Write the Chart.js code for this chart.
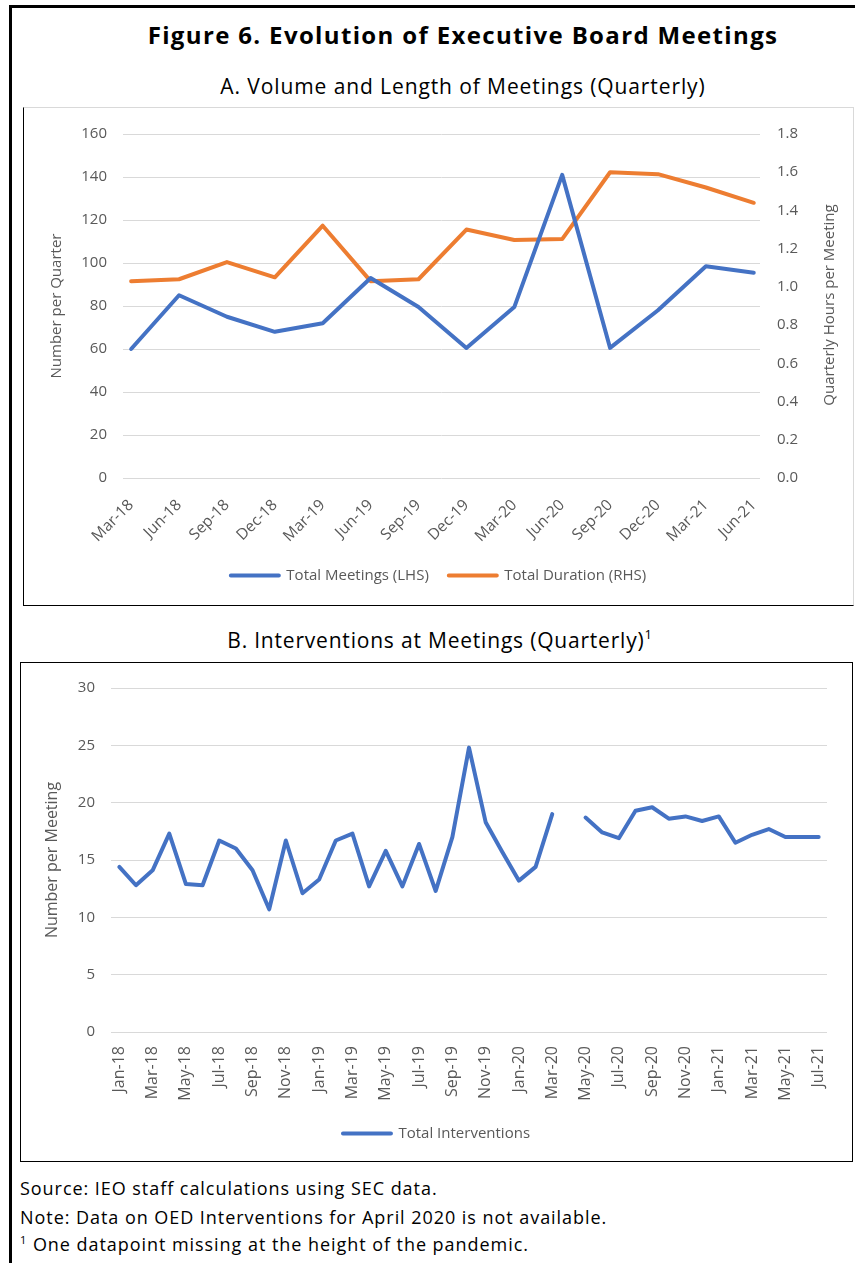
<!DOCTYPE html>
<html>
<head>
<meta charset="utf-8">
<title>Figure 6. Evolution of Executive Board Meetings</title>
<script src="https://cdn.jsdelivr.net/npm/chart.js@4.4.1/dist/chart.umd.min.js"></script>
<style>
  body { margin: 0; background: #fff; font-family: "Open Sans", sans-serif; }
  #page { position: relative; width: 855px; height: 1263px; overflow: hidden; }
  #frame { position: absolute; left: 9px; top: 5px; width: 900px; height: 1300px;
           border-left: 3px solid #000; border-top: 3px solid #000; }
  .txt { position: absolute; white-space: nowrap; color: #000; }
  #title { left: 63px; width: 800px; top: 19px; text-align: center; font-weight: bold;
           font-size: 24px; letter-spacing: 1.35px; line-height: 32px; }
  #subA  { left: 63px; width: 800px; top: 72px; text-align: center; font-size: 21px;
           letter-spacing: 0.9px; line-height: 28px; }
  #subB  { left: 40px; width: 800px; top: 626px; text-align: center; font-size: 21px;
           letter-spacing: 0.8px; line-height: 28px; }
  #subB sup { font-size: 13px; vertical-align: 9px; line-height: 0; }
  .foot  { left: 20px; font-size: 18px; letter-spacing: 0.95px; line-height: 28px; }
  .foot sup { font-size: 11px; vertical-align: 7px; line-height: 0; }
  #panelA { position: absolute; left: 23px; top: 107px; width: 829px; height: 497px;
            border-left: 1px solid #000; border-bottom: 1px solid #000;
            border-top: 1px solid #d9d9d9; border-right: 1px solid #d9d9d9; }
  #panelB { position: absolute; left: 20px; top: 662px; width: 831px; height: 498px;
            border: 1px solid #000; }
  #rhsTitle { position: absolute; left: 678px; top: 295px; width: 300px; height: 20px;
              line-height: 20px; text-align: center; font-size: 15px; color: #595959;
              transform: rotate(-90deg); white-space: nowrap; }
  canvas { display: block; }
</style>
</head>
<body>
<div id="page">
  <div id="frame"></div>
  <div class="txt" id="title">Figure 6. Evolution of Executive Board Meetings</div>
  <div class="txt" id="subA">A. Volume and Length of Meetings (Quarterly)</div>
  <div id="panelA"><canvas id="chartA" width="829" height="497"></canvas></div>
  <div id="rhsTitle">Quarterly Hours per Meeting</div>
  <div class="txt" id="subB">B. Interventions at Meetings (Quarterly)<sup>1</sup></div>
  <div id="panelB"><canvas id="chartB" width="831" height="498"></canvas></div>
  <div class="txt foot" style="top:1174px">Source: IEO staff calculations using SEC data.</div>
  <div class="txt foot" style="top:1203px">Note: Data on OED Interventions for April 2020 is not available.</div>
  <div class="txt foot" style="top:1230px"><sup>1</sup> One datapoint missing at the height of the pandemic.</div>
</div>

<script>
// ── DATA: PANEL A (quarterly) ──
const quarters      = ['Mar-18', 'Jun-18', 'Sep-18', 'Dec-18', 'Mar-19', 'Jun-19', 'Sep-19',
                       'Dec-19', 'Mar-20', 'Jun-20', 'Sep-20', 'Dec-20', 'Mar-21', 'Jun-21'];
const totalMeetings = [60, 85, 75, 68, 72, 93, 79.5, 60.5, 79.5, 141, 60.5, 78, 98.5, 95.5];
const totalDuration = [1.03, 1.04, 1.13, 1.05, 1.32, 1.03, 1.04, 1.30, 1.245, 1.25, 1.60, 1.59, 1.52, 1.44];

// ── DATA: PANEL B (monthly, April 2020 missing) ──
const months = ['Jan-18', 'Feb-18', 'Mar-18', 'Apr-18', 'May-18', 'Jun-18', 'Jul-18', 'Aug-18', 'Sep-18', 'Oct-18', 'Nov-18', 'Dec-18',
                'Jan-19', 'Feb-19', 'Mar-19', 'Apr-19', 'May-19', 'Jun-19', 'Jul-19', 'Aug-19', 'Sep-19', 'Oct-19', 'Nov-19', 'Dec-19',
                'Jan-20', 'Feb-20', 'Mar-20', 'Apr-20', 'May-20', 'Jun-20', 'Jul-20', 'Aug-20', 'Sep-20', 'Oct-20', 'Nov-20', 'Dec-20',
                'Jan-21', 'Feb-21', 'Mar-21', 'Apr-21', 'May-21', 'Jun-21', 'Jul-21'];
const interventions = [14.4, 12.8, 14.1, 17.3, 12.9, 12.8, 16.7, 16.0, 14.1, 10.7, 16.7, 12.1,
                       13.3, 16.7, 17.3, 12.7, 15.8, 12.7, 16.4, 12.3, 17.0, 24.8, 18.3, 15.7,
                       13.2, 14.4, 19.0, null, 18.7, 17.4, 16.9, 19.3, 19.6, 18.6, 18.8, 18.4,
                       18.8, 16.5, 17.2, 17.7, 17.0, 17.0, 17.0];

const BLUE   = '#4472C4';
const ORANGE = '#ED7D31';
const GRID   = '#d9d9d9';
const AXIS   = '#595959';

Chart.defaults.font.family = '"Open Sans", sans-serif';
Chart.defaults.font.size   = 15;
Chart.defaults.color       = AXIS;

const legendLabels = { boxWidth: 48, boxHeight: 0, padding: 20, font: { size: 15 } };

// ── CHART A: meetings (LHS) and duration (RHS) ──
new Chart(document.getElementById('chartA'), {
  type: 'line',
  data: {
    datasets: [
      {
        label: 'Total Meetings (LHS)',
        data: totalMeetings.map((v, i) => ({ x: i, y: v })),
        borderColor: BLUE,
        backgroundColor: BLUE,
        borderWidth: 4,
        borderCapStyle: 'round',
        borderJoinStyle: 'round',
        pointRadius: 0,
        yAxisID: 'y',
      },
      {
        label: 'Total Duration (RHS)',
        data: totalDuration.map((v, i) => ({ x: i, y: v })),
        borderColor: ORANGE,
        backgroundColor: ORANGE,
        borderWidth: 4,
        borderCapStyle: 'round',
        borderJoinStyle: 'round',
        pointRadius: 0,
        yAxisID: 'y1',
      }
    ]
  },
  options: {
    responsive: false,
    animation: false,
    layout: { padding: { top: 23, right: 0, bottom: 12, left: 0 } },
    plugins: {
      legend: { position: 'bottom', labels: legendLabels },
      tooltip: { enabled: false }
    },
    scales: {
      x: {
        type: 'linear',
        min: -0.17,
        max: 13.13,
        grid: { display: false },
        border: { display: false },
        afterBuildTicks: s => { s.ticks = quarters.map((q, i) => ({ value: i })); },
        afterFit: s => { s.height = 70; },
        ticks: {
          autoSkip: false,
          minRotation: 45,
          maxRotation: 45,
          padding: 10,
          font: { size: 15.5 },
          callback: v => quarters[v]
        }
      },
      y: {
        position: 'left',
        min: 0,
        max: 160,
        afterFit: s => { s.width = 99; },
        grid: { color: GRID, drawTicks: false },
        border: { display: false },
        ticks: { stepSize: 20, padding: 16 },
        title: { display: true, text: 'Number per Quarter', font: { size: 15 }, padding: { top: 24, bottom: 0 } }
      },
      y1: {
        position: 'right',
        min: 0,
        max: 1.8,
        afterFit: s => { s.width = 93; },
        grid: { drawOnChartArea: false, drawTicks: false },
        border: { display: false },
        ticks: { stepSize: 0.2, padding: 17, callback: v => v.toFixed(1) }
      }
    }
  }
});

// ── CHART B: interventions per meeting ──
new Chart(document.getElementById('chartB'), {
  type: 'line',
  data: {
    labels: months,
    datasets: [{
      label: 'Total Interventions',
      data: interventions,
      borderColor: BLUE,
      backgroundColor: BLUE,
      borderWidth: 4,
      borderCapStyle: 'round',
      borderJoinStyle: 'round',
      pointRadius: 0,
      spanGaps: false,
    }]
  },
  options: {
    responsive: false,
    animation: false,
    layout: { padding: { top: 24, right: 0, bottom: 10, left: 0 } },
    plugins: {
      legend: { position: 'bottom', labels: legendLabels },
      tooltip: { enabled: false }
    },
    scales: {
      x: {
        offset: true,
        grid: { display: false },
        border: { display: false },
        afterFit: s => { s.height = 74; },
        ticks: {
          autoSkip: false,
          minRotation: 90,
          maxRotation: 90,
          padding: 6,
          font: { size: 16 },
          callback: (v, i) => (i % 2 === 0 ? months[i] : null)
        }
      },
      y: {
        min: 0,
        max: 30,
        afterFit: s => { s.width = 90; },
        grid: { color: GRID, drawTicks: false },
        border: { display: false },
        ticks: { stepSize: 5, padding: 16 },
        title: { display: true, text: 'Number per Meeting', font: { size: 16 }, padding: { top: 22, bottom: 0 } }
      },
      // empty right margin kept as a scale so the legend stays centred on the panel
      yPad: {
        position: 'right',
        grid: { display: false },
        border: { display: false },
        ticks: { display: false },
        afterFit: s => { s.width = 25; }
      }
    }
  }
});
</script>
</body>
</html>
